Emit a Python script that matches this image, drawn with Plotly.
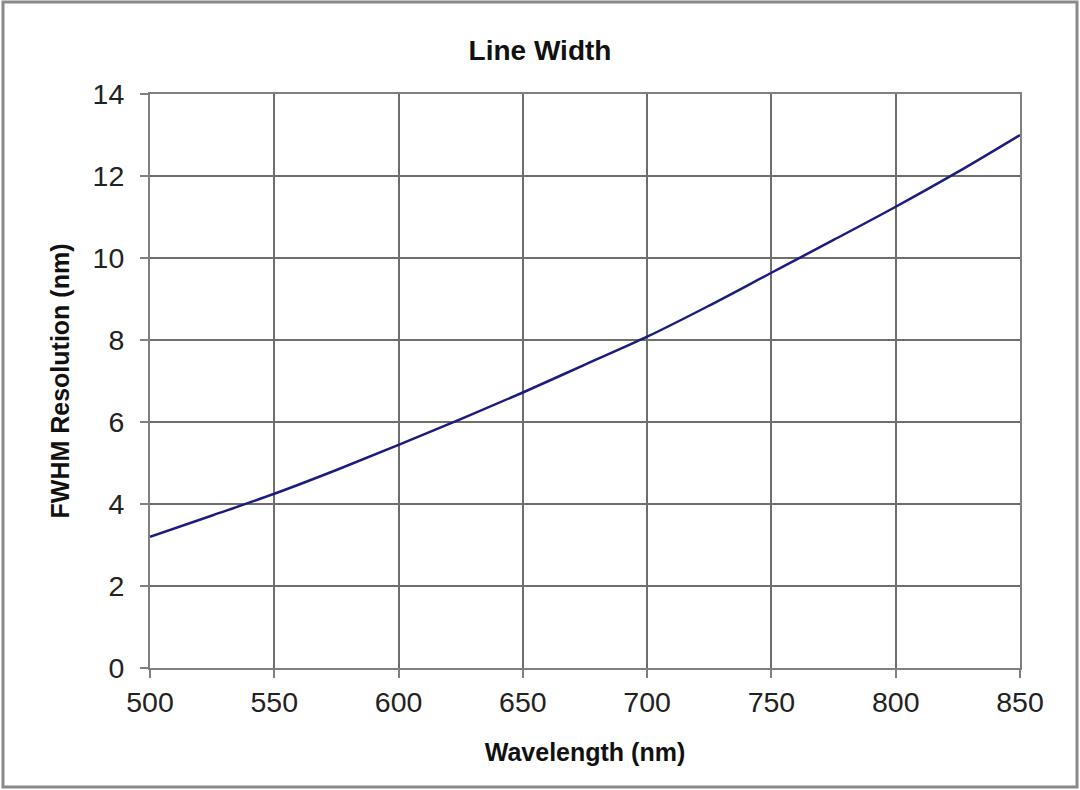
import plotly.graph_objects as go

# wavelength (nm) vs FWHM resolution (nm)
wavelength = [500, 525, 550, 575, 600, 625, 650, 675, 700, 725, 750, 775, 800, 825, 850]
fwhm = [3.2, 3.72, 4.25, 4.83, 5.44, 6.07, 6.72, 7.4, 8.08, 8.84, 9.64, 10.44, 11.25, 12.1, 13.0]

x_ticks = [500, 550, 600, 650, 700, 750, 800, 850]
y_ticks = [0, 2, 4, 6, 8, 10, 12, 14]

W, H = 1080, 790
ml, mr, mt, mb = 150, 60, 94, 122
FONT = 'Liberation Sans, Arial'

fig = go.Figure()
fig.add_trace(go.Scatter(x=wavelength, y=fwhm, mode='lines',
                         line=dict(color='#1c1c7e', width=2.5, shape='spline'),
                         showlegend=False, hoverinfo='x+y'))

axis = dict(showline=True, linecolor='#808080', linewidth=2,
            showgrid=True, gridcolor='#6e6e6e', gridwidth=2,
            zeroline=False, ticks='outside', ticklen=8, tickwidth=2,
            tickcolor='#808080', mirror=True,
            tickfont=dict(family=FONT, size=28.5, color='#222222'))

fig.update_xaxes(axis, range=[500, 850], tickvals=x_ticks,
                 title=dict(text='<b>Wavelength (nm)</b>', standoff=26,
                            font=dict(family=FONT, size=25, color='#111111')))
fig.update_yaxes(axis, range=[0, 14], tickvals=y_ticks, ticklabelstandoff=10,
                 title=dict(text='<b>FWHM Resolution (nm)</b>', standoff=16,
                            font=dict(family=FONT, size=25, color='#111111')))

# grey frame around the whole picture
pw, ph = W - ml - mr, H - mt - mb
fig.add_shape(type='rect', xref='paper', yref='paper', layer='above',
              x0=(3 - ml) / pw, x1=(W - 3 - ml) / pw,
              y0=-(mb - 3) / ph, y1=1 + (mt - 2) / ph,
              line=dict(color='#8a8a8a', width=3))

fig.update_layout(
    width=W, height=H,
    margin=dict(l=ml, r=mr, t=mt, b=mb),
    title=dict(text='<b>Line Width</b>', x=0.5, xanchor='center', y=1 - 50 / H, yanchor='middle',
               font=dict(family=FONT, size=28, color='#111111')),
    plot_bgcolor='white', paper_bgcolor='white',
)

fig.write_html("out.html", config={'displayModeBar': False},
               post_script="document.body.style.margin='0';")
